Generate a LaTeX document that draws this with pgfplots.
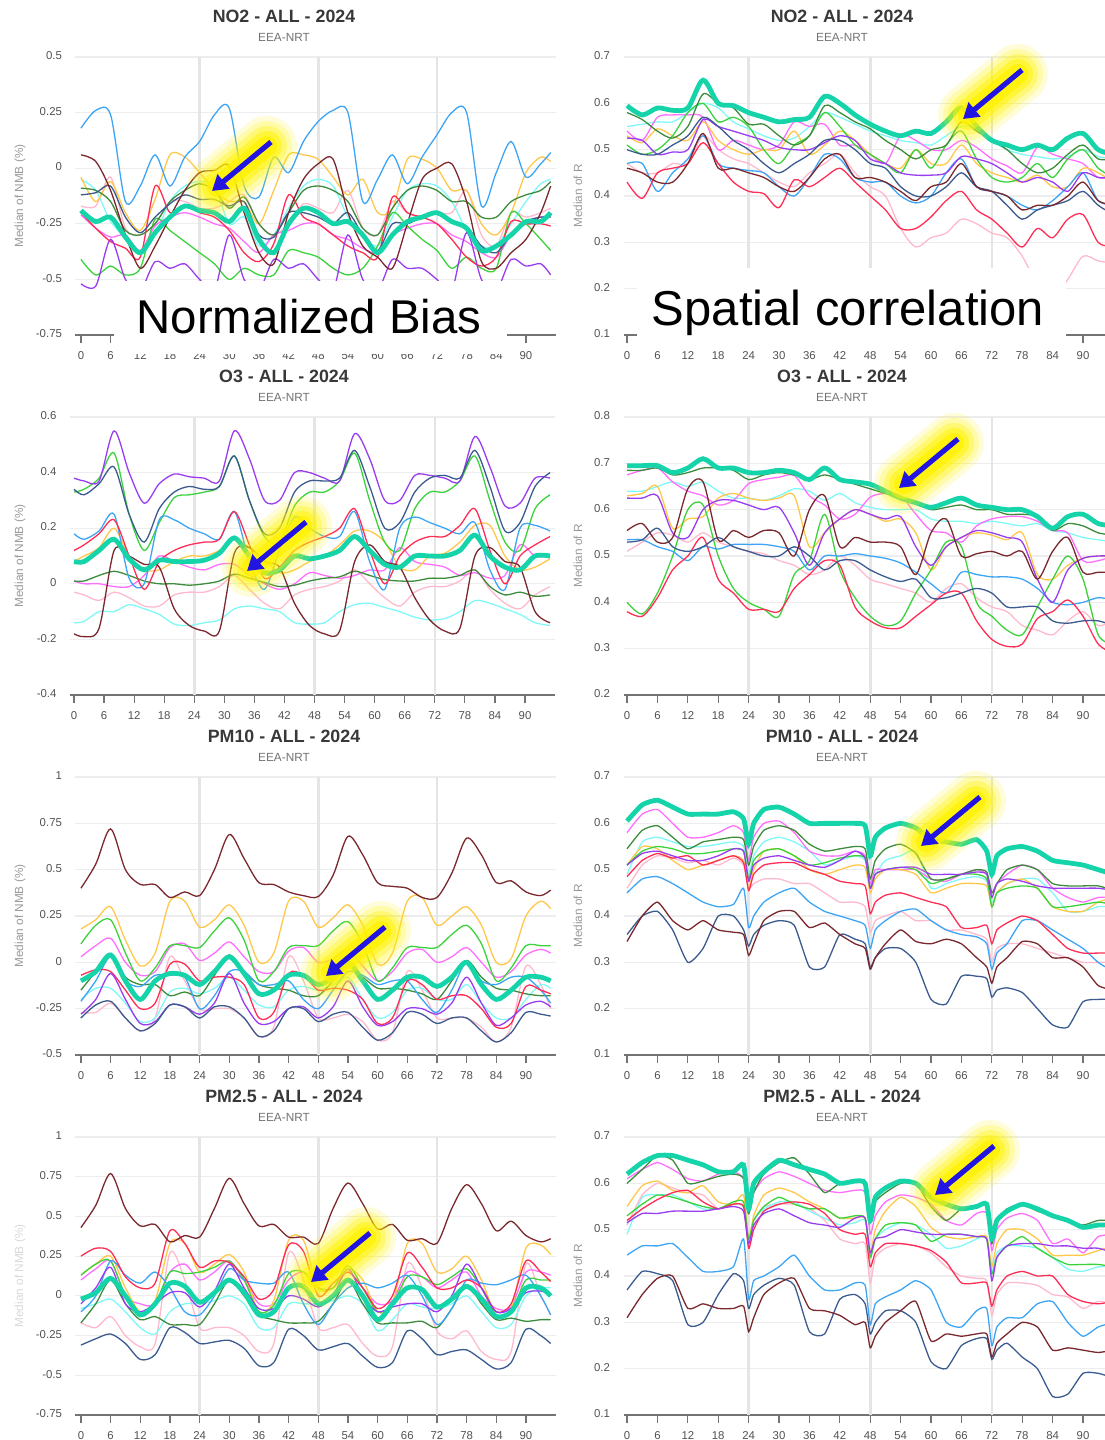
\documentclass[border=0pt]{standalone}
\usepackage{fontspec}
\setmainfont{Liberation Sans}
\usepackage{pgfplots}
\pgfplotsset{compat=1.18}
\usepackage{pgfplotstable}
\usetikzlibrary{arrows.meta}

\definecolor{cE}{RGB}{22,212,170}
\definecolor{cLB}{RGB}{61,165,245}
\definecolor{cOR}{RGB}{255,200,74}
\definecolor{cBR}{RGB}{122,40,45}
\definecolor{cDB}{RGB}{59,91,143}
\definecolor{cRD}{RGB}{255,45,85}
\definecolor{cPK}{RGB}{255,185,204}
\definecolor{cMG}{RGB}{255,110,255}
\definecolor{cGR}{RGB}{60,210,60}
\definecolor{cDG}{RGB}{60,140,60}
\definecolor{cCY}{RGB}{128,248,248}
\definecolor{cPU}{RGB}{154,60,240}
\definecolor{arrowblue}{RGB}{34,20,225}

\newcommand\tf{\fontsize{5.7}{6.8}\selectfont}

% NO2 NMB
\pgfplotstableread{
h E LB OR BR DB RD PK MG GR DG CY PU
0  -0.19 0.18 -0.04 0.06 -0.12 -0.20 -0.17 -0.21 -0.41 -0.09 -0.05 -0.52
3  -0.24 0.26 -0.15 0.03 -0.11 -0.27 -0.17 -0.27 -0.48 -0.10 -0.10 -0.53
6  -0.22 0.24 -0.06 -0.10 -0.08 -0.33 -0.04 -0.31 -0.44 -0.15 -0.24 -0.32
9  -0.31 -0.15 -0.20 -0.30 -0.22 -0.36 -0.27 -0.30 -0.48 -0.28 -0.31 -0.50
12 -0.38 -0.08 -0.28 -0.45 -0.29 -0.40 -0.30 -0.37 -0.45 -0.30 -0.38 -0.55
15 -0.29 0.06 -0.14 -0.35 -0.22 -0.08 -0.25 -0.26 -0.23 -0.25 -0.30 -0.42
18 -0.22 -0.08 0.06 -0.22 -0.16 -0.20 -0.15 -0.22 -0.28 -0.15 -0.15 -0.45
21 -0.17 0.05 0.05 -0.10 -0.12 -0.17 -0.15 -0.20 -0.33 -0.10 -0.08 -0.43
24 -0.19 0.12 -0.02 -0.02 -0.14 -0.20 -0.18 -0.22 -0.38 -0.07 -0.06 -0.50
27 -0.20 0.24 -0.10 -0.01 -0.14 -0.22 -0.18 -0.25 -0.43 -0.10 -0.08 -0.55
30 -0.24 0.27 -0.15 0.01 -0.17 -0.28 -0.15 -0.27 -0.50 -0.18 -0.25 -0.30
33 -0.18 -0.08 -0.15 -0.20 -0.15 -0.38 -0.12 -0.33 -0.45 -0.13 -0.22 -0.50
36 -0.32 -0.13 -0.25 -0.38 -0.30 -0.42 -0.25 -0.38 -0.48 -0.25 -0.35 -0.55
39 -0.38 0.05 -0.10 -0.43 -0.31 -0.34 -0.30 -0.30 -0.48 -0.30 -0.30 -0.41
42 -0.25 -0.02 0.06 -0.20 -0.20 -0.12 -0.25 -0.28 -0.37 -0.20 -0.18 -0.45
45 -0.18 0.12 0.06 -0.05 -0.20 -0.22 -0.16 -0.25 -0.38 -0.10 -0.08 -0.43
48 -0.20 0.21 0.04 0.02 -0.22 -0.25 -0.18 -0.25 -0.40 -0.08 -0.05 -0.50
51 -0.25 0.26 -0.04 0.04 -0.25 -0.30 -0.20 -0.30 -0.45 -0.10 -0.08 -0.55
54 -0.24 0.25 -0.12 -0.20 -0.20 -0.35 -0.10 -0.32 -0.48 -0.15 -0.22 -0.30
57 -0.30 -0.15 -0.05 -0.35 -0.30 -0.38 -0.27 -0.36 -0.45 -0.27 -0.30 -0.50
60 -0.38 -0.05 -0.20 -0.40 -0.37 -0.40 -0.30 -0.38 -0.35 -0.30 -0.35 -0.55
63 -0.30 0.06 -0.18 -0.45 -0.25 -0.13 -0.15 -0.30 -0.20 -0.18 -0.22 -0.41
66 -0.24 -0.07 0.04 -0.25 -0.25 -0.20 -0.20 -0.27 -0.26 -0.10 -0.10 -0.45
69 -0.22 0.05 0.04 -0.05 -0.22 -0.22 -0.22 -0.25 -0.32 -0.08 -0.07 -0.45
72 -0.20 0.15 0.00 0.00 -0.20 -0.25 -0.20 -0.25 -0.37 -0.10 -0.08 -0.50
75 -0.24 0.25 -0.10 0.02 -0.24 -0.32 -0.20 -0.30 -0.45 -0.15 -0.15 -0.55
78 -0.27 0.25 -0.10 -0.15 -0.26 -0.40 -0.10 -0.33 -0.40 -0.15 -0.28 -0.29
81 -0.37 -0.17 -0.25 -0.42 -0.35 -0.44 -0.30 -0.38 -0.45 -0.22 -0.35 -0.50
84 -0.35 -0.02 -0.30 -0.45 -0.38 -0.40 -0.35 -0.40 -0.45 -0.22 -0.35 -0.55
87 -0.30 0.12 -0.20 -0.38 -0.30 -0.24 -0.20 -0.30 -0.20 -0.15 -0.25 -0.41
90 -0.24 -0.04 -0.02 -0.32 -0.24 -0.25 -0.22 -0.24 -0.25 -0.12 -0.15 -0.44
93 -0.24 0.02 0.05 -0.20 -0.22 -0.25 -0.20 -0.22 -0.32 -0.10 -0.07 -0.43
95 -0.20 0.07 0.03 -0.08 -0.22 -0.26 -0.18 -0.22 -0.37 -0.06 -0.05 -0.48
}\tA

% NO2 R
\pgfplotstableread{
h E LB OR BR DB RD PK MG GR DG CY PU
0  0.595 0.47 0.53 0.46 0.50 0.43 0.47 0.54 0.51 0.58 0.55 0.525
3  0.575 0.47 0.515 0.45 0.49 0.395 0.45 0.52 0.49 0.565 0.555 0.52
6  0.59 0.41 0.545 0.43 0.49 0.45 0.45 0.57 0.50 0.54 0.56 0.49
9  0.585 0.45 0.53 0.43 0.51 0.46 0.47 0.575 0.53 0.525 0.56 0.495
12 0.59 0.48 0.52 0.47 0.53 0.47 0.47 0.575 0.58 0.55 0.58 0.50
15 0.65 0.53 0.56 0.535 0.57 0.515 0.53 0.57 0.60 0.62 0.60 0.565
18 0.60 0.47 0.52 0.46 0.55 0.47 0.50 0.50 0.56 0.60 0.59 0.55
21 0.595 0.46 0.50 0.46 0.52 0.43 0.48 0.52 0.57 0.59 0.56 0.54
24 0.58 0.455 0.49 0.45 0.50 0.41 0.47 0.51 0.55 0.555 0.545 0.53
27 0.57 0.45 0.50 0.44 0.47 0.405 0.45 0.50 0.50 0.555 0.53 0.52
30 0.56 0.42 0.50 0.42 0.45 0.375 0.43 0.51 0.47 0.53 0.52 0.505
33 0.565 0.40 0.54 0.41 0.47 0.435 0.42 0.56 0.51 0.51 0.525 0.50
36 0.57 0.44 0.49 0.44 0.49 0.42 0.45 0.55 0.53 0.53 0.55 0.50
39 0.615 0.49 0.51 0.48 0.52 0.44 0.47 0.555 0.58 0.595 0.58 0.515
42 0.60 0.48 0.54 0.49 0.52 0.46 0.49 0.51 0.55 0.58 0.57 0.53
45 0.575 0.44 0.52 0.44 0.50 0.43 0.45 0.51 0.51 0.56 0.555 0.52
48 0.555 0.43 0.49 0.44 0.47 0.40 0.42 0.49 0.49 0.545 0.54 0.48
51 0.54 0.43 0.47 0.43 0.46 0.37 0.40 0.47 0.47 0.52 0.53 0.47
54 0.53 0.40 0.46 0.41 0.42 0.33 0.33 0.53 0.45 0.50 0.52 0.45
57 0.54 0.385 0.50 0.39 0.40 0.33 0.29 0.52 0.50 0.48 0.515 0.445
60 0.535 0.40 0.47 0.42 0.40 0.355 0.31 0.50 0.46 0.50 0.51 0.445
63 0.56 0.45 0.47 0.43 0.42 0.39 0.32 0.50 0.51 0.51 0.53 0.45
66 0.59 0.48 0.51 0.47 0.45 0.41 0.35 0.52 0.54 0.56 0.55 0.485
69 0.55 0.42 0.47 0.42 0.42 0.37 0.34 0.505 0.48 0.54 0.545 0.48
72 0.52 0.41 0.45 0.41 0.41 0.35 0.32 0.48 0.44 0.52 0.52 0.47
75 0.51 0.40 0.44 0.40 0.38 0.32 0.31 0.465 0.43 0.50 0.50 0.45
78 0.50 0.38 0.43 0.37 0.35 0.29 0.27 0.45 0.44 0.47 0.49 0.43
81 0.51 0.37 0.445 0.38 0.37 0.33 0.21 0.505 0.47 0.45 0.485 0.44
84 0.50 0.39 0.42 0.38 0.38 0.31 0.18 0.49 0.44 0.46 0.48 0.43
87 0.525 0.42 0.42 0.40 0.39 0.35 0.22 0.48 0.48 0.49 0.485 0.41
90 0.535 0.45 0.46 0.43 0.41 0.36 0.27 0.47 0.50 0.51 0.50 0.45
93 0.50 0.39 0.45 0.39 0.38 0.30 0.26 0.44 0.46 0.48 0.485 0.44
96 0.49 0.38 0.43 0.38 0.36 0.29 0.255 0.44 0.44 0.48 0.48 0.44
}\tB

% O3 NMB
\pgfplotstableread{
h E LB OR BR DB RD PK MG GR DG CY PU
0  0.08 0.18 0.08 -0.18 0.34 0.12 -0.03 0.01 0.33 0.01 -0.14 0.38
2  0.08 0.16 0.10 -0.19 0.32 0.14 -0.04 0.00 0.34 0.01 -0.135 0.37
5  0.12 0.19 0.13 -0.16 0.36 0.18 -0.06 0.00 0.38 0.03 -0.10 0.37
8  0.16 0.25 0.20 0.12 0.42 0.23 -0.03 -0.01 0.47 0.045 -0.10 0.55
11 0.09 0.02 0.10 0.10 0.25 0.10 -0.05 -0.01 0.25 0.03 -0.075 0.40
14 0.05 0.00 0.05 0.07 0.15 -0.02 -0.08 0.03 0.12 0.01 -0.09 0.29
17 0.085 0.23 0.05 0.06 0.27 0.08 -0.08 0.10 0.22 0.00 -0.11 0.36
20 0.08 0.23 0.08 -0.09 0.33 0.12 -0.04 0.08 0.31 0.00 -0.145 0.395
23 0.08 0.20 0.10 -0.15 0.35 0.14 -0.03 0.06 0.32 -0.005 -0.15 0.385
26 0.085 0.18 0.10 -0.17 0.34 0.15 -0.03 0.05 0.33 0.00 -0.14 0.38
29 0.11 0.16 0.12 -0.17 0.35 0.16 -0.01 0.07 0.35 0.01 -0.13 0.37
32 0.165 0.26 0.16 0.11 0.46 0.26 0.03 0.07 0.46 0.035 -0.09 0.55
35 0.10 0.08 0.13 0.13 0.30 0.14 -0.02 0.03 0.30 0.02 -0.08 0.45
38 0.04 -0.02 0.09 0.08 0.18 0.02 -0.07 0.00 0.17 0.005 -0.09 0.30
41 0.05 0.12 0.04 0.06 0.20 0.06 -0.09 -0.02 0.15 -0.01 -0.10 0.30
44 0.10 0.24 0.05 -0.07 0.33 0.12 -0.04 0.00 0.28 -0.005 -0.14 0.40
47 0.09 0.20 0.08 -0.15 0.37 0.15 -0.02 0.04 0.33 0.01 -0.145 0.40
50 0.10 0.17 0.10 -0.18 0.37 0.17 -0.01 0.03 0.33 0.02 -0.14 0.38
53 0.12 0.17 0.14 -0.17 0.38 0.20 0.01 0.02 0.37 0.025 -0.10 0.37
56 0.17 0.26 0.19 0.08 0.48 0.27 0.05 0.03 0.47 0.045 -0.075 0.54
59 0.12 0.08 0.19 0.14 0.35 0.12 0.00 0.05 0.30 0.03 -0.07 0.45
62 0.07 -0.02 0.15 0.08 0.20 0.00 -0.05 0.05 0.15 0.015 -0.085 0.30
65 0.06 0.20 0.06 0.06 0.22 0.10 -0.08 0.13 0.12 0.01 -0.10 0.30
68 0.10 0.24 0.05 -0.05 0.33 0.15 -0.03 0.08 0.27 0.01 -0.12 0.39
71 0.10 0.22 0.10 -0.13 0.38 0.17 -0.01 0.07 0.33 0.02 -0.13 0.39
74 0.10 0.20 0.11 -0.17 0.39 0.17 -0.01 0.06 0.33 0.02 -0.125 0.38
77 0.12 0.18 0.15 -0.16 0.38 0.21 0.01 0.03 0.37 0.03 -0.10 0.37
80 0.175 0.22 0.21 0.10 0.48 0.27 0.05 0.04 0.46 0.05 -0.06 0.53
83 0.10 0.05 0.21 0.13 0.35 0.12 -0.02 0.02 0.30 -0.01 -0.07 0.42
86 0.06 -0.02 0.10 0.08 0.19 0.00 -0.07 0.03 0.15 -0.04 -0.09 0.28
89 0.05 0.20 0.05 0.06 0.22 0.10 -0.09 0.14 0.12 -0.03 -0.11 0.29
92 0.10 0.21 0.06 -0.10 0.35 0.14 -0.04 0.10 0.27 -0.045 -0.14 0.38
95 0.10 0.19 0.09 -0.14 0.40 0.17 -0.01 0.10 0.32 -0.04 -0.15 0.38
}\tC

% O3 R
\pgfplotstableread{
h E LB OR BR DB RD PK MG GR DG CY PU
0  0.695 0.535 0.63 0.555 0.53 0.38 0.51 0.675 0.40 0.685 0.64 0.625
3  0.695 0.535 0.635 0.57 0.535 0.37 0.53 0.685 0.375 0.685 0.64 0.625
6  0.695 0.52 0.65 0.53 0.56 0.41 0.55 0.69 0.42 0.69 0.65 0.63
9  0.68 0.51 0.56 0.54 0.52 0.47 0.545 0.66 0.50 0.675 0.66 0.55
12 0.69 0.49 0.58 0.645 0.51 0.50 0.53 0.64 0.60 0.68 0.65 0.54
15 0.71 0.52 0.585 0.66 0.52 0.54 0.55 0.63 0.61 0.69 0.66 0.60
18 0.69 0.515 0.625 0.535 0.54 0.45 0.53 0.61 0.50 0.69 0.64 0.62
21 0.69 0.525 0.635 0.555 0.52 0.42 0.52 0.62 0.43 0.685 0.625 0.62
24 0.68 0.525 0.625 0.54 0.51 0.385 0.51 0.656 0.40 0.665 0.625 0.61
27 0.68 0.525 0.62 0.555 0.50 0.385 0.505 0.665 0.385 0.675 0.62 0.60
30 0.685 0.52 0.625 0.55 0.50 0.38 0.49 0.67 0.37 0.68 0.63 0.605
33 0.68 0.51 0.63 0.50 0.52 0.43 0.48 0.674 0.46 0.675 0.645 0.55
36 0.665 0.47 0.52 0.60 0.50 0.46 0.46 0.63 0.49 0.665 0.64 0.48
39 0.69 0.50 0.55 0.63 0.47 0.49 0.47 0.61 0.59 0.675 0.62 0.55
42 0.665 0.50 0.58 0.52 0.49 0.48 0.50 0.58 0.47 0.665 0.635 0.58
45 0.66 0.505 0.60 0.54 0.49 0.39 0.48 0.59 0.41 0.655 0.615 0.60
48 0.655 0.50 0.59 0.53 0.47 0.36 0.45 0.627 0.37 0.645 0.605 0.59
51 0.64 0.495 0.575 0.53 0.455 0.345 0.44 0.635 0.35 0.635 0.60 0.58
54 0.625 0.485 0.58 0.52 0.445 0.345 0.43 0.63 0.36 0.625 0.60 0.585
57 0.615 0.465 0.55 0.46 0.45 0.37 0.42 0.59 0.42 0.615 0.60 0.52
60 0.605 0.44 0.47 0.55 0.41 0.395 0.40 0.555 0.47 0.60 0.58 0.48
63 0.615 0.42 0.52 0.58 0.41 0.42 0.43 0.55 0.53 0.605 0.575 0.52
66 0.625 0.465 0.54 0.50 0.42 0.42 0.44 0.53 0.52 0.61 0.575 0.54
69 0.61 0.46 0.55 0.505 0.43 0.36 0.41 0.565 0.40 0.60 0.57 0.555
72 0.605 0.455 0.545 0.51 0.42 0.32 0.39 0.58 0.37 0.60 0.575 0.55
75 0.60 0.455 0.535 0.50 0.39 0.305 0.38 0.585 0.34 0.59 0.57 0.54
78 0.60 0.45 0.55 0.51 0.39 0.31 0.35 0.585 0.33 0.59 0.565 0.53
81 0.585 0.43 0.46 0.45 0.39 0.365 0.34 0.575 0.39 0.585 0.57 0.45
84 0.56 0.40 0.45 0.51 0.36 0.38 0.33 0.555 0.45 0.555 0.555 0.40
87 0.585 0.395 0.48 0.54 0.355 0.405 0.36 0.55 0.50 0.57 0.55 0.47
90 0.59 0.40 0.495 0.465 0.36 0.37 0.38 0.49 0.45 0.565 0.54 0.495
93 0.57 0.41 0.50 0.465 0.36 0.31 0.35 0.49 0.33 0.55 0.535 0.50
96 0.565 0.405 0.50 0.465 0.35 0.29 0.36 0.50 0.31 0.545 0.53 0.50
}\tD

% PM10 NMB
\pgfplotstableread{
h E LB OR BR DB RD PK MG GR DG CY PU
0  -0.10 -0.21 0.18 0.40 -0.30 -0.07 -0.27 0.03 0.10 -0.15 -0.20 -0.28
3  -0.05 -0.10 0.23 0.53 -0.23 -0.04 -0.27 0.09 0.20 -0.05 -0.14 -0.20
6  0.04 0.03 0.30 0.72 -0.21 -0.05 -0.22 0.13 0.23 0.04 -0.14 -0.06
9  -0.10 -0.10 0.12 0.50 -0.30 -0.15 -0.30 0.00 0.05 -0.08 -0.22 -0.20
12 -0.20 -0.13 -0.02 0.42 -0.37 -0.25 -0.37 -0.07 -0.10 -0.12 -0.32 -0.33
15 -0.10 -0.07 0.05 0.42 -0.33 -0.22 -0.30 -0.05 -0.03 -0.12 -0.30 -0.32
18 -0.06 -0.07 0.33 0.35 -0.23 -0.01 0.03 0.08 0.09 -0.18 -0.16 -0.23
21 -0.07 -0.08 0.33 0.38 -0.24 -0.01 -0.10 0.10 0.09 -0.16 -0.14 -0.24
24 -0.12 -0.25 0.19 0.36 -0.30 -0.10 -0.25 0.01 0.08 -0.18 -0.17 -0.28
27 -0.05 -0.18 0.23 0.50 -0.24 -0.08 -0.25 0.05 0.17 -0.07 -0.14 -0.22
30 0.03 -0.05 0.31 0.69 -0.24 -0.08 -0.25 0.11 0.24 0.04 -0.08 -0.06
33 -0.06 -0.05 0.20 0.56 -0.30 -0.12 -0.30 0.03 0.12 -0.05 -0.15 -0.22
36 -0.17 -0.12 0.00 0.43 -0.40 -0.30 -0.40 -0.05 -0.10 -0.12 -0.23 -0.33
39 -0.15 -0.12 0.05 0.42 -0.37 -0.27 -0.35 -0.05 -0.05 -0.14 -0.24 -0.32
42 -0.07 -0.10 0.33 0.38 -0.25 -0.06 0.03 0.06 0.08 -0.15 -0.15 -0.25
45 -0.07 -0.20 0.33 0.36 -0.25 -0.07 -0.10 0.08 0.09 -0.18 -0.13 -0.24
48 -0.12 -0.25 0.19 0.355 -0.32 -0.15 -0.30 0.00 0.09 -0.18 -0.15 -0.30
51 -0.08 -0.15 0.24 0.47 -0.28 -0.14 -0.30 0.02 0.17 -0.10 -0.12 -0.24
54 0.00 -0.05 0.31 0.68 -0.27 -0.15 -0.28 0.07 0.22 -0.02 -0.08 -0.10
57 -0.10 -0.07 0.20 0.58 -0.35 -0.20 -0.32 -0.02 0.10 -0.08 -0.20 -0.24
60 -0.20 -0.12 -0.01 0.43 -0.42 -0.33 -0.42 -0.10 -0.10 -0.14 -0.30 -0.34
63 -0.15 -0.10 0.05 0.41 -0.38 -0.30 -0.38 -0.05 -0.03 -0.14 -0.27 -0.32
66 -0.08 -0.10 0.33 0.40 -0.27 -0.10 -0.05 0.05 0.08 -0.15 -0.15 -0.25
69 -0.08 -0.20 0.35 0.35 -0.28 -0.12 -0.15 0.07 0.08 -0.17 -0.14 -0.25
72 -0.13 -0.27 0.20 0.35 -0.33 -0.20 -0.30 0.00 0.08 -0.20 -0.20 -0.28
75 -0.08 -0.15 0.25 0.48 -0.30 -0.18 -0.30 0.03 0.15 -0.10 -0.20 -0.22
78 0.00 0.00 0.30 0.67 -0.30 -0.18 -0.30 0.08 0.20 0.01 -0.12 -0.08
81 -0.12 -0.10 0.20 0.58 -0.37 -0.25 -0.35 0.00 0.10 -0.08 -0.22 -0.22
84 -0.20 -0.12 0.00 0.43 -0.43 -0.35 -0.43 -0.08 -0.10 -0.14 -0.30 -0.34
87 -0.15 -0.08 0.02 0.44 -0.38 -0.33 -0.35 -0.05 -0.03 -0.15 -0.30 -0.30
90 -0.08 -0.08 0.25 0.38 -0.27 -0.13 -0.02 0.04 0.09 -0.17 -0.20 -0.23
93 -0.08 -0.15 0.33 0.36 -0.28 -0.15 -0.12 0.07 0.09 -0.18 -0.12 -0.21
95 -0.10 -0.22 0.29 0.39 -0.29 -0.17 -0.25 0.05 0.09 -0.18 -0.14 -0.24
}\tE

% PM10 R
\pgfplotstableread{
h E LB OR BR DB RD PK MG GR DG CY PU
0  0.605 0.45 0.51 0.345 0.36 0.485 0.46 0.58 0.51 0.545 0.49 0.51
3  0.64 0.48 0.55 0.40 0.40 0.52 0.51 0.62 0.54 0.585 0.56 0.535
6  0.65 0.485 0.545 0.43 0.41 0.535 0.53 0.63 0.55 0.595 0.57 0.54
9  0.635 0.47 0.52 0.39 0.37 0.525 0.525 0.60 0.545 0.57 0.56 0.53
12 0.62 0.45 0.50 0.37 0.30 0.53 0.515 0.57 0.535 0.545 0.55 0.52
15 0.62 0.43 0.51 0.39 0.33 0.51 0.52 0.57 0.535 0.56 0.55 0.52
18 0.62 0.42 0.52 0.37 0.40 0.52 0.51 0.58 0.54 0.565 0.555 0.53
21 0.625 0.425 0.53 0.365 0.40 0.53 0.525 0.595 0.545 0.57 0.56 0.545
23 0.61 0.46 0.52 0.36 0.37 0.515 0.51 0.58 0.54 0.565 0.55 0.54
24 0.555 0.375 0.46 0.315 0.335 0.455 0.46 0.52 0.48 0.51 0.49 0.475
25 0.60 0.40 0.50 0.34 0.36 0.49 0.47 0.57 0.52 0.55 0.53 0.51
27 0.63 0.43 0.54 0.39 0.38 0.51 0.48 0.60 0.54 0.585 0.56 0.525
30 0.635 0.45 0.545 0.41 0.39 0.515 0.48 0.605 0.545 0.595 0.57 0.53
33 0.62 0.46 0.53 0.41 0.38 0.515 0.47 0.58 0.53 0.585 0.56 0.52
36 0.60 0.43 0.50 0.375 0.29 0.50 0.47 0.54 0.51 0.555 0.54 0.51
39 0.60 0.41 0.49 0.385 0.29 0.49 0.45 0.53 0.515 0.54 0.51 0.505
42 0.60 0.40 0.50 0.36 0.36 0.475 0.43 0.53 0.525 0.545 0.52 0.52
45 0.60 0.39 0.51 0.34 0.35 0.47 0.43 0.54 0.53 0.55 0.53 0.54
47 0.595 0.38 0.505 0.33 0.34 0.465 0.42 0.53 0.525 0.545 0.52 0.525
48 0.53 0.33 0.45 0.285 0.29 0.405 0.365 0.47 0.46 0.48 0.47 0.46
49 0.57 0.37 0.48 0.31 0.31 0.43 0.39 0.50 0.49 0.52 0.49 0.49
51 0.59 0.39 0.50 0.34 0.33 0.445 0.40 0.50 0.50 0.545 0.52 0.50
54 0.60 0.41 0.50 0.37 0.33 0.45 0.41 0.50 0.505 0.555 0.53 0.505
57 0.59 0.415 0.49 0.345 0.30 0.44 0.39 0.50 0.50 0.535 0.54 0.505
60 0.565 0.39 0.45 0.34 0.22 0.43 0.39 0.48 0.47 0.48 0.46 0.49
63 0.56 0.37 0.46 0.35 0.21 0.42 0.37 0.475 0.48 0.48 0.47 0.49
66 0.555 0.36 0.47 0.34 0.27 0.375 0.37 0.49 0.49 0.49 0.48 0.49
69 0.565 0.355 0.47 0.31 0.27 0.375 0.36 0.50 0.49 0.50 0.485 0.495
71 0.54 0.34 0.465 0.29 0.265 0.38 0.35 0.49 0.48 0.495 0.475 0.49
72 0.49 0.285 0.42 0.255 0.225 0.34 0.30 0.45 0.42 0.45 0.43 0.44
73 0.53 0.32 0.45 0.29 0.24 0.37 0.33 0.47 0.45 0.47 0.45 0.47
75 0.545 0.34 0.47 0.31 0.245 0.385 0.34 0.49 0.46 0.50 0.47 0.48
78 0.55 0.39 0.48 0.345 0.235 0.40 0.34 0.51 0.465 0.51 0.48 0.475
81 0.54 0.39 0.46 0.34 0.20 0.39 0.33 0.50 0.46 0.50 0.48 0.465
84 0.52 0.37 0.42 0.31 0.165 0.36 0.32 0.46 0.42 0.47 0.45 0.46
87 0.515 0.35 0.41 0.31 0.16 0.33 0.31 0.44 0.42 0.465 0.41 0.46
90 0.51 0.33 0.41 0.29 0.215 0.32 0.30 0.43 0.425 0.465 0.41 0.46
93 0.50 0.30 0.43 0.25 0.22 0.32 0.30 0.44 0.43 0.465 0.42 0.46
96 0.49 0.28 0.44 0.24 0.22 0.32 0.30 0.44 0.425 0.455 0.42 0.455
}\tF

% PM2.5 NMB
\pgfplotstableread{
h E LB OR BR DB RD PK MG GR DG CY PU
0  -0.02 -0.10 0.13 0.43 -0.31 0.25 -0.17 0.10 0.13 -0.17 -0.08 -0.05
3  0.02 0.00 0.20 0.57 -0.27 0.30 -0.20 0.17 0.20 -0.05 -0.05 0.05
6  0.11 0.22 0.25 0.77 -0.24 0.28 -0.13 0.22 0.22 0.10 -0.02 0.18
9  0.00 0.13 0.05 0.55 -0.30 0.12 -0.25 0.00 0.00 -0.05 -0.10 -0.05
12 -0.12 0.08 -0.10 0.44 -0.40 0.05 -0.32 -0.05 -0.12 -0.15 -0.20 -0.10
15 -0.05 0.15 -0.03 0.45 -0.37 0.08 -0.30 -0.05 -0.05 -0.13 -0.24 -0.05
18 0.08 0.05 0.33 0.34 -0.20 0.41 0.27 0.15 0.15 -0.18 -0.10 0.02
21 0.06 -0.10 0.33 0.38 -0.23 0.33 0.10 0.20 0.14 -0.18 -0.05 0.02
24 -0.04 -0.12 0.15 0.37 -0.30 0.18 -0.20 0.10 0.15 -0.18 -0.05 -0.07
27 0.02 0.00 0.20 0.55 -0.29 0.22 -0.20 0.15 0.18 -0.05 -0.03 0.03
30 0.10 0.17 0.26 0.74 -0.28 0.21 -0.20 0.22 0.22 0.10 0.00 0.20
33 0.02 0.10 0.15 0.58 -0.33 0.12 -0.25 0.10 0.10 0.00 -0.05 0.05
36 -0.12 0.08 -0.10 0.44 -0.44 -0.02 -0.35 -0.05 -0.10 -0.12 -0.20 -0.08
39 -0.10 0.08 -0.03 0.45 -0.42 0.04 -0.30 -0.05 -0.06 -0.15 -0.20 -0.08
42 0.05 0.15 0.35 0.37 -0.21 0.32 0.27 0.10 0.14 -0.17 -0.05 0.00
45 0.06 -0.05 0.35 0.37 -0.25 0.28 0.10 0.15 0.15 -0.17 -0.05 -0.02
48 -0.05 -0.18 0.05 0.33 -0.34 0.00 -0.20 0.05 0.05 -0.16 -0.05 -0.07
51 0.00 -0.05 0.05 0.55 -0.32 0.08 -0.20 0.05 0.05 -0.05 -0.03 0.00
54 0.10 0.05 0.17 0.71 -0.30 0.15 -0.18 0.15 0.19 0.10 0.00 0.17
57 0.00 0.08 0.10 0.58 -0.38 0.05 -0.30 0.05 0.05 -0.05 -0.05 0.00
60 -0.15 0.05 -0.10 0.42 -0.45 -0.08 -0.38 -0.05 -0.10 -0.17 -0.22 -0.10
63 -0.05 0.08 -0.05 0.45 -0.42 0.00 -0.32 -0.03 -0.05 -0.17 -0.15 -0.07
66 0.05 0.13 0.33 0.35 -0.22 0.27 0.20 0.15 0.12 -0.17 -0.05 -0.05
69 0.04 0.00 0.33 0.36 -0.27 0.18 0.05 0.12 0.12 -0.16 -0.07 -0.05
72 -0.07 -0.18 0.15 0.33 -0.37 0.05 -0.22 0.05 0.07 -0.20 -0.08 -0.10
75 -0.02 -0.08 0.17 0.55 -0.35 0.05 -0.27 0.10 0.12 -0.08 -0.05 0.00
78 0.06 0.10 0.25 0.70 -0.34 0.10 -0.22 0.15 0.17 0.07 0.00 0.20
81 -0.02 0.08 0.10 0.58 -0.40 0.05 -0.35 0.00 0.05 -0.05 -0.10 0.05
84 -0.13 0.07 -0.12 0.41 -0.46 -0.10 -0.40 -0.08 -0.12 -0.15 -0.20 -0.10
87 -0.10 0.10 -0.08 0.47 -0.42 -0.05 -0.35 -0.07 -0.10 -0.14 -0.18 -0.08
90 0.05 0.13 0.30 0.38 -0.21 0.22 0.20 0.15 0.10 -0.16 0.00 0.02
93 0.05 0.00 0.32 0.34 -0.25 0.15 0.00 0.15 0.10 -0.15 0.05 0.03
95 0.00 -0.12 0.26 0.36 -0.30 0.09 -0.12 0.13 0.10 -0.15 0.05 0.01
}\tG

% PM2.5 R
\pgfplotstableread{
h E LB OR BR DB RD PK MG GR DG CY PU
0  0.62 0.445 0.55 0.31 0.37 0.52 0.51 0.61 0.53 0.60 0.49 0.515
3  0.645 0.465 0.595 0.36 0.41 0.545 0.575 0.63 0.555 0.63 0.57 0.535
6  0.66 0.465 0.605 0.395 0.405 0.565 0.60 0.645 0.575 0.66 0.575 0.535
9  0.66 0.47 0.585 0.40 0.39 0.58 0.59 0.63 0.57 0.65 0.575 0.54
12 0.65 0.44 0.58 0.33 0.295 0.585 0.58 0.61 0.56 0.60 0.56 0.54
15 0.64 0.41 0.595 0.34 0.30 0.56 0.575 0.605 0.55 0.605 0.545 0.54
18 0.625 0.41 0.56 0.33 0.36 0.545 0.545 0.62 0.545 0.615 0.545 0.545
21 0.625 0.42 0.555 0.33 0.405 0.555 0.555 0.625 0.56 0.62 0.555 0.55
23 0.64 0.48 0.575 0.335 0.39 0.55 0.55 0.61 0.56 0.61 0.55 0.54
24 0.545 0.35 0.48 0.28 0.33 0.46 0.48 0.535 0.48 0.535 0.47 0.47
25 0.60 0.39 0.53 0.31 0.36 0.50 0.52 0.58 0.52 0.58 0.52 0.51
27 0.625 0.40 0.575 0.36 0.38 0.54 0.55 0.61 0.55 0.62 0.545 0.535
30 0.65 0.42 0.59 0.385 0.395 0.555 0.555 0.625 0.57 0.645 0.56 0.545
33 0.64 0.445 0.58 0.395 0.38 0.56 0.555 0.615 0.555 0.655 0.56 0.53
36 0.63 0.40 0.56 0.33 0.28 0.555 0.545 0.60 0.545 0.62 0.54 0.515
39 0.62 0.37 0.545 0.325 0.275 0.535 0.52 0.585 0.545 0.58 0.525 0.51
42 0.60 0.37 0.525 0.315 0.35 0.50 0.48 0.58 0.525 0.60 0.51 0.505
45 0.605 0.385 0.525 0.295 0.36 0.49 0.47 0.585 0.53 0.605 0.515 0.525
47 0.60 0.38 0.525 0.30 0.34 0.49 0.47 0.58 0.525 0.60 0.52 0.525
48 0.52 0.295 0.45 0.245 0.275 0.42 0.385 0.49 0.44 0.515 0.44 0.45
49 0.57 0.34 0.50 0.27 0.30 0.45 0.44 0.53 0.48 0.56 0.48 0.48
51 0.59 0.355 0.54 0.30 0.325 0.47 0.46 0.56 0.51 0.58 0.50 0.485
54 0.605 0.37 0.57 0.325 0.325 0.47 0.47 0.575 0.515 0.60 0.515 0.50
57 0.60 0.39 0.55 0.345 0.30 0.465 0.465 0.57 0.51 0.60 0.51 0.495
60 0.57 0.37 0.505 0.26 0.215 0.455 0.45 0.555 0.475 0.55 0.49 0.49
63 0.555 0.30 0.485 0.275 0.20 0.43 0.42 0.52 0.49 0.52 0.46 0.49
66 0.545 0.29 0.48 0.27 0.25 0.385 0.40 0.51 0.49 0.545 0.465 0.49
69 0.55 0.325 0.485 0.275 0.265 0.385 0.395 0.535 0.485 0.55 0.48 0.485
71 0.555 0.33 0.485 0.275 0.265 0.385 0.39 0.535 0.48 0.55 0.485 0.48
72 0.48 0.25 0.42 0.225 0.22 0.335 0.315 0.455 0.405 0.47 0.41 0.39
73 0.52 0.29 0.47 0.255 0.24 0.37 0.36 0.50 0.44 0.52 0.45 0.44
75 0.54 0.31 0.50 0.275 0.255 0.40 0.385 0.525 0.465 0.545 0.465 0.465
78 0.555 0.31 0.50 0.30 0.225 0.41 0.385 0.535 0.485 0.555 0.465 0.47
81 0.545 0.34 0.48 0.29 0.20 0.40 0.38 0.52 0.46 0.54 0.46 0.47
84 0.53 0.345 0.445 0.24 0.14 0.40 0.36 0.47 0.44 0.53 0.44 0.465
87 0.52 0.30 0.445 0.245 0.145 0.36 0.355 0.48 0.425 0.52 0.415 0.465
90 0.505 0.27 0.445 0.24 0.19 0.345 0.33 0.45 0.425 0.51 0.41 0.46
93 0.51 0.29 0.455 0.235 0.19 0.34 0.345 0.485 0.425 0.52 0.42 0.46
96 0.51 0.30 0.465 0.24 0.18 0.345 0.34 0.49 0.42 0.52 0.42 0.45
}\tH

\newcommand\allmodels[1]{%
\addplot[cPK] table[x=h,y=PK]{#1};
\addplot[cCY] table[x=h,y=CY]{#1};
\addplot[cMG] table[x=h,y=MG]{#1};
\addplot[cOR] table[x=h,y=OR]{#1};
\addplot[cGR] table[x=h,y=GR]{#1};
\addplot[cDG] table[x=h,y=DG]{#1};
\addplot[cLB] table[x=h,y=LB]{#1};
\addplot[cRD] table[x=h,y=RD]{#1};
\addplot[cPU] table[x=h,y=PU]{#1};
\addplot[cDB] table[x=h,y=DB]{#1};
\addplot[cBR] table[x=h,y=BR]{#1};
\addplot[cE, line width=2.4pt] table[x=h,y=E]{#1};
}

\pgfplotsset{
 panel/.style={
  scale only axis, height=139pt, xmax=96, clip=true, anchor=south west,
  axis x line*=bottom, axis y line*=left,
  y axis line style={draw=none},
  x axis line style={draw=black!55, line width=0.75pt},
  xtick={0,6,...,90},
  xticklabels={0,6,12,18,24,30,36,42,48,54,60,66,72,78,84,90},
  typeset ticklabels with strut,
  tick align=outside, major tick length=4pt,
  xtick style={draw=black!55, line width=0.6pt},
  ytick style={draw=none},
  ymajorgrids, y grid style={draw=black!7, line width=0.55pt},
  extra x ticks={24,48,72}, extra x tick labels={},
  extra x tick style={grid=major, major grid style={draw=black!10, line width=1.3pt}},
  tick label style={font=\tf, text=black!68},
  yticklabel style={xshift=1pt},
  every axis plot/.append style={line width=0.65pt, smooth, tension=0.5, mark=none},
 },
 lp/.style={panel, width=240.3pt, xmin=-1.2},
 rp/.style={panel, width=244.7pt, xmin=-0.6, ymin=0.1, ymax=0.7,
   ytick={0.1,0.2,0.3,0.4,0.5,0.6,0.7}, yticklabels={0.1,0.2,0.3,0.4,0.5,0.6,0.7},
   yticklabel style={xshift=-0.5pt}},
}

\newcommand\glowarrow[2]{%
 \draw[yellow, line cap=round, line width=30pt, opacity=0.15] (#1-4,#2+4) -- (#1-54,#2+45);
 \draw[yellow, line cap=round, line width=25pt, opacity=0.22] (#1-4,#2+4) -- (#1-54,#2+45);
 \draw[yellow, line cap=round, line width=20pt, opacity=0.32] (#1-4,#2+4) -- (#1-54,#2+45);
 \draw[yellow, line cap=round, line width=15pt, opacity=0.5] (#1-4,#2+4) -- (#1-54,#2+45);
 \draw[yellow, line cap=round, line width=10pt, opacity=0.75] (#1-4,#2+4) -- (#1-54,#2+45);
 \draw[arrowblue, line width=2.6pt, -{Triangle[length=7.5pt,width=9pt]}] (#1,#2) -- (#1-59,#2+49);
}

\begin{document}
\begin{tikzpicture}
\useasboundingbox (0,0) rectangle (552pt,-720pt);

% Row 1
\begin{axis}[lp, at={(37.5pt,-167.5pt)}, ymin=-0.75, ymax=0.5,
  ytick={-0.75,-0.5,-0.25,0,0.25,0.5}, yticklabels={-0.75,-0.5,-0.25,0,0.25,0.5}]
\allmodels{\tA}
\end{axis}
\begin{axis}[rp, at={(312pt,-167.5pt)}]
\allmodels{\tB}
\end{axis}

% Row 2
\begin{axis}[panel, width=242.8pt, xmin=-0.9, at={(34.75pt,-347.5pt)}, ymin=-0.4, ymax=0.6,
  ytick={-0.4,-0.2,0,0.2,0.4,0.6}, yticklabels={-0.4,-0.2,0,0.2,0.4,0.6}]
\allmodels{\tC}
\end{axis}
\begin{axis}[rp, at={(312pt,-347.5pt)}, ymin=0.2, ymax=0.8,
  ytick={0.2,0.3,0.4,0.5,0.6,0.7,0.8}, yticklabels={0.2,0.3,0.4,0.5,0.6,0.7,0.8}]
\allmodels{\tD}
\end{axis}

% Row 3
\begin{axis}[lp, at={(37.5pt,-527.5pt)}, ymin=-0.5, ymax=1,
  ytick={-0.5,-0.25,0,0.25,0.5,0.75,1}, yticklabels={-0.5,-0.25,0,0.25,0.5,0.75,1}]
\allmodels{\tE}
\end{axis}
\begin{axis}[rp, at={(312pt,-527.5pt)}, every axis plot/.append style={tension=0.35}]
\allmodels{\tF}
\end{axis}

% Row 4
\begin{axis}[lp, at={(37.5pt,-707.5pt)}, ymin=-0.75, ymax=1,
  ytick={-0.75,-0.5,-0.25,0,0.25,0.5,0.75,1}, yticklabels={-0.75,-0.5,-0.25,0,0.25,0.5,0.75,1}]
\allmodels{\tG}
\end{axis}
\begin{axis}[rp, at={(312pt,-707.5pt)}, every axis plot/.append style={tension=0.35}]
\allmodels{\tH}
\end{axis}

\begin{scope}[x=0.5pt,y=-0.5pt]
% titles
\foreach \nm/\rr in {NO2/0,O3/1,PM10/2,PM2.5/3}{
  \node[font=\fontsize{8.9}{10}\selectfont\bfseries, text=black!78] at (284,16+360*\rr) {\nm\ - ALL - 2024};
  \node[font=\fontsize{8.9}{10}\selectfont\bfseries, text=black!78] at (842,16+360*\rr) {\nm\ - ALL - 2024};
  \node[font=\fontsize{5.9}{7}\selectfont, text=black!55] at (284,37+360*\rr) {EEA-NRT};
  \node[font=\fontsize{5.9}{7}\selectfont, text=black!55] at (842,37+360*\rr) {EEA-NRT};
  \node[font=\fontsize{5.9}{7}\selectfont, text=black!40, rotate=90] at (578,196+360*\rr) {Median of R};
}
\foreach \rr in {0,1,2}{
  \node[font=\fontsize{5.9}{7}\selectfont, text=black!40, rotate=90] at (20,196+360*\rr) {Median of NMB (\%)};
}
\node[font=\fontsize{5.9}{7}\selectfont, text=black!15, rotate=90] at (20,1276) {Median of NMB (\%)};

% overlay boxes with captions
\fill[white] (114,280.5) rectangle (507,354);
\fill[white] (637,268) rectangle (1066,345);
\node[font=\fontsize{23.7}{28}\selectfont, anchor=base, inner sep=0pt] at (309,333) {Normalized Bias};
\node[font=\fontsize{24.5}{28}\selectfont, anchor=base, inner sep=0pt] at (848,325) {Spatial correlation};

% highlighted arrows
\glowarrow{271}{142}
\glowarrow{1022}{70}
\glowarrow{306}{522}
\glowarrow{958}{439}
\glowarrow{385}{927}
\glowarrow{980}{797}
\glowarrow{370}{1233}
\glowarrow{994}{1146}
\end{scope}
\end{tikzpicture}
\end{document}
